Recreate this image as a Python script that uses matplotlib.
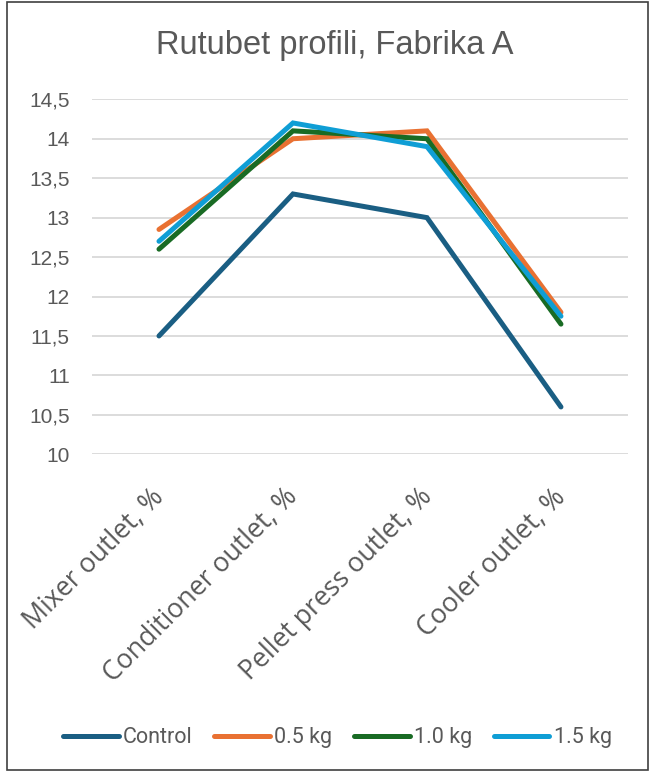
import matplotlib
matplotlib.use("Agg")
import matplotlib.pyplot as plt
from matplotlib.patches import Rectangle
from matplotlib.transforms import ScaledTranslation

categories = ["Mixer outlet, %", "Conditioner outlet, %", "Pellet press outlet, %", "Cooler outlet, %"]
series_names = ["Control", "0.5 kg", "1.0 kg", "1.5 kg"]
control = [11.5, 13.3, 13.0, 10.6]
kg_05 = [12.85, 14.0, 14.1, 11.8]
kg_10 = [12.6, 14.1, 14.0, 11.65]
kg_15 = [12.7, 14.2, 13.9, 11.75]
y_ticks = [10, 10.5, 11, 11.5, 12, 12.5, 13, 13.5, 14, 14.5]
y_tick_labels = ["10", "10,5", "11", "11,5", "12", "12,5", "13", "13,5", "14", "14,5"]

colors = ["#1a5e83", "#e97132", "#196b24", "#0f9ed5"]
text_color = "#595959"

fig = plt.figure(figsize=(6.51, 7.71), dpi=100)
ax = fig.add_axes([0.1413, 0.4108, 0.8233, 0.4604])

x = list(range(len(categories)))
for name, vals, c in zip(series_names, [control, kg_05, kg_10, kg_15], colors):
    ax.plot(x, vals, color=c, lw=3.6, solid_capstyle="round", solid_joinstyle="miter", label=name)

ax.set_xlim(-0.5, len(categories) - 0.5)
ax.set_ylim(10, 14.5)
ax.set_yticks(y_ticks)
ax.set_yticklabels(y_tick_labels, fontfamily=["Liberation Sans", "DejaVu Sans"])
ax.set_xticks(x)
ax.set_xticklabels(categories, rotation=45, ha="right", va="center", rotation_mode="anchor",
                   fontfamily=["Open Sans", "DejaVu Sans"])
ax.tick_params(axis="y", length=0, labelsize=15, labelcolor=text_color, pad=16)
ax.tick_params(axis="x", length=0, labelsize=19.2, labelcolor=text_color, pad=28)
shift = ScaledTranslation(1 / 100, 0, fig.dpi_scale_trans)
for lbl in ax.get_xticklabels():
    lbl.set_transform(lbl.get_transform() + shift)
ax.grid(axis="y", color="#d9d9d9", lw=1.3)
ax.set_axisbelow(True)
for s in ax.spines.values():
    s.set_visible(False)

fig.text(0.514, 1 - 54 / 771, "Rutubet profili, Fabrika A", ha="center", va="baseline",
         fontsize=23.5, color=text_color, fontfamily=["Liberation Sans", "DejaVu Sans"])

leg = fig.legend(loc="center", bbox_to_anchor=(0.518, 0.043), ncol=4, frameon=False,
                 prop={"family": ["Roboto", "DejaVu Sans"], "size": 15.5},
                 labelcolor=text_color, handlelength=2.6, handletextpad=0.19,
                 columnspacing=1.0)

fig.patches.append(Rectangle((7 / 651, 1 / 771), 641 / 651, 768 / 771, transform=fig.transFigure,
                             fill=False, edgecolor="#404040", lw=1.2))

fig.savefig("out.png", dpi=100)
